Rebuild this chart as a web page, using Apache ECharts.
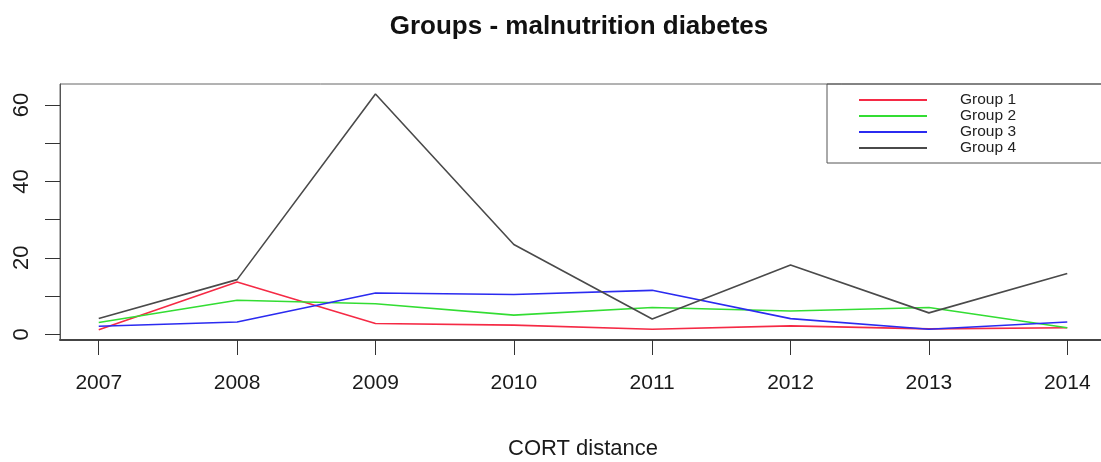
<!DOCTYPE html>
<html>
<head>
<meta charset="utf-8">
<script src="https://cdn.jsdelivr.net/npm/echarts@6/dist/echarts.min.js"></script>
<style>
  html, body { margin: 0; padding: 0; background: #fff; }
  #chart { width: 1101px; height: 462px; }
</style>
</head>
<body>
<div id="chart"></div>
<script>
// Yearly values per group
const years = [2007, 2008, 2009, 2010, 2011, 2012, 2013, 2014];
const group1 = [1.2, 13.7, 2.8, 2.4, 1.3, 2.2, 1.4, 1.7];
const group2 = [3.1, 8.9, 8.0, 5.0, 7.0, 6.1, 7.0, 1.7];
const group3 = [2.1, 3.2, 10.8, 10.4, 11.5, 4.1, 1.3, 3.2];
const group4 = [4.1, 14.3, 62.9, 23.5, 4.0, 18.1, 5.6, 15.9];

const seriesNames = ['Group 1', 'Group 2', 'Group 3', 'Group 4'];
const seriesColors = ['#f52a45', '#33dd33', '#2b2bf0', '#4a4a4a'];

// Tick positions on both axes
const yTicks = [0, 10, 20, 30, 40, 50, 60];
const yLabels = [0, 20, 40, 60];

const sans = '"Liberation Sans", Arial, sans-serif';

const pair = (vals) => years.map((y, i) => [y, vals[i]]);
const allValues = [group1, group2, group3, group4];

const chart = echarts.init(document.getElementById('chart'), null, { renderer: 'canvas' });

chart.setOption({
  animation: false,
  backgroundColor: '#ffffff',
  title: {
    text: 'Groups - malnutrition diabetes',
    left: 579,
    top: 14,
    padding: 0,
    textAlign: 'center',
    textStyle: { fontFamily: sans, fontWeight: 'bold', fontSize: 26, color: '#111' }
  },
  grid: {
    left: 60, top: 84, right: -5, bottom: 122,
    outerBoundsMode: 'none',
    containLabel: false,
    show: true, borderColor: '#666', borderWidth: 1, backgroundColor: 'transparent'
  },
  legend: {
    orient: 'vertical',
    left: 827, top: 84,
    padding: [8, 120, 7, 32],
    itemGap: 0,
    itemWidth: 68, itemHeight: 2,
    icon: 'rect',
    borderColor: '#555', borderWidth: 1,
    data: seriesNames,
    textStyle: {
      fontFamily: sans, fontSize: 15.5, lineHeight: 15.5, color: '#222',
      padding: [0, 0, 0, 28]
    }
  },
  xAxis: {
    type: 'value',
    min: 2006.72, max: 2014.28,
    name: 'CORT distance',
    nameLocation: 'middle',
    nameGap: 98,
    nameTextStyle: { fontFamily: sans, fontSize: 22, color: '#1a1a1a' },
    splitLine: { show: false },
    axisLine: { show: true, onZero: false, lineStyle: { color: '#444', width: 2 } },
    axisTick: { show: true, length: 15, customValues: years, lineStyle: { color: '#333', width: 1 } },
    axisLabel: {
      customValues: years, margin: 33,
      fontFamily: sans, fontSize: 21, color: '#1a1a1a',
      formatter: (v) => String(v)
    }
  },
  yAxis: {
    type: 'value',
    min: -1.5, max: 65.5,
    splitLine: { show: false },
    axisLine: { show: true, onZero: false, lineStyle: { color: '#555', width: 1 } },
    axisTick: { show: true, length: 15, customValues: yTicks, lineStyle: { color: '#333', width: 1 } },
    axisLabel: {
      customValues: yLabels, rotate: 90, margin: 27,
      fontFamily: sans, fontSize: 22, color: '#1a1a1a'
    }
  },
  series: seriesNames.map((name, i) => ({
    name,
    type: 'line',
    data: pair(allValues[i]),
    showSymbol: false,
    symbol: 'none',
    color: seriesColors[i],
    lineStyle: { color: seriesColors[i], width: 1.6 },
    z: 2 + i
  }))
});
</script>
</body>
</html>
